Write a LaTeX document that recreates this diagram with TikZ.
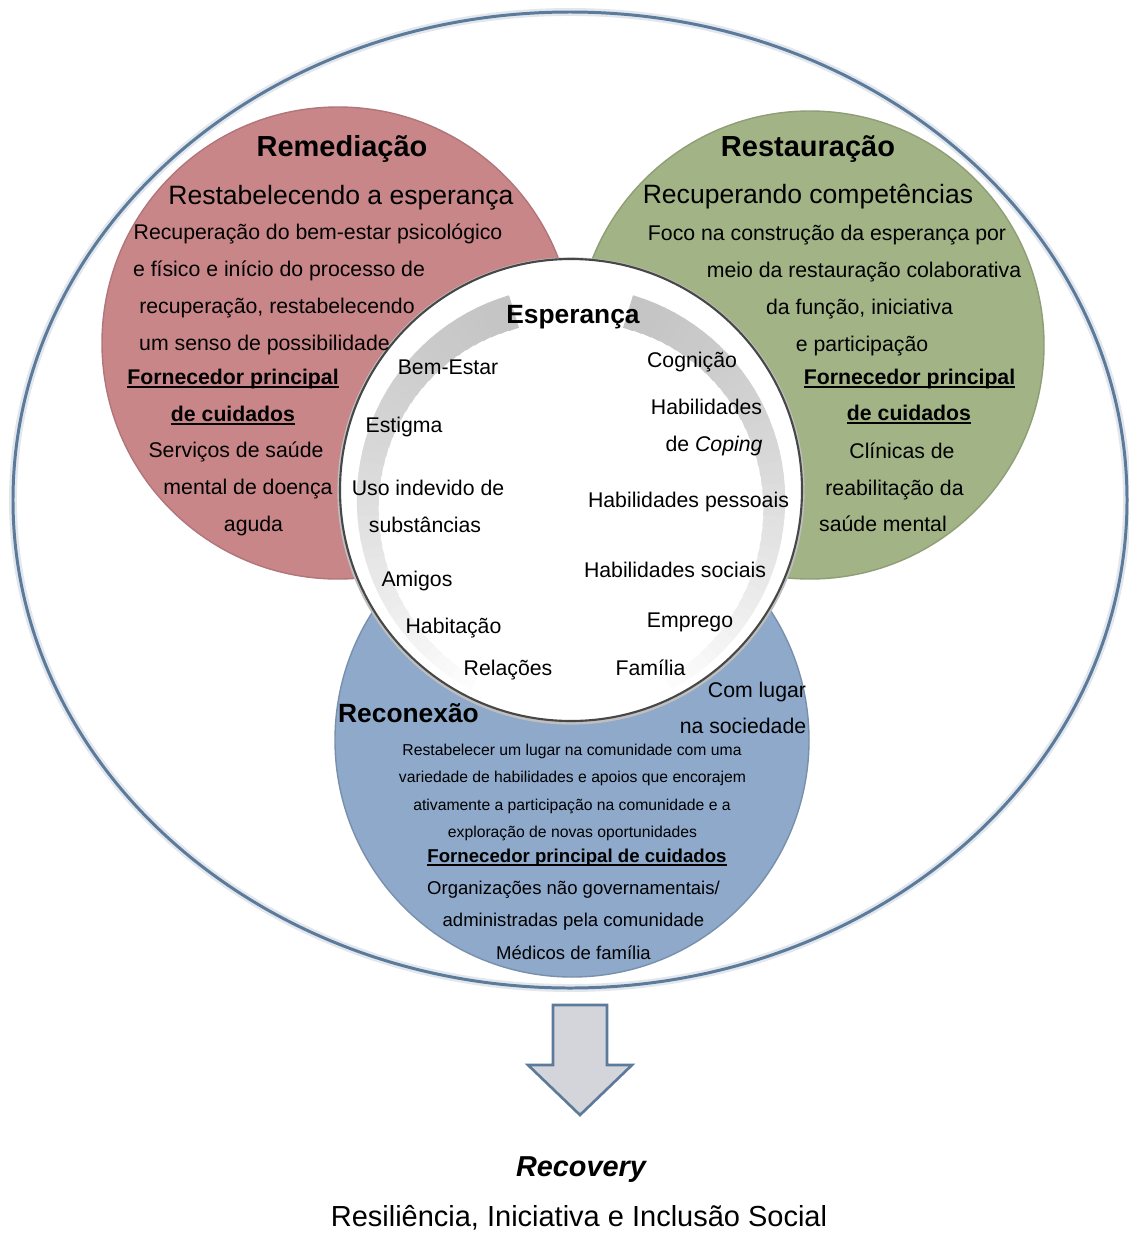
\documentclass[tikz,border=0pt]{standalone}
\usepackage{fontspec}
\setmainfont{Liberation Sans}
\usetikzlibrary{calc}

\definecolor{remcol}{RGB}{201,134,137}
\definecolor{rescol}{RGB}{162,179,134}
\definecolor{reccol}{RGB}{142,169,202}
\definecolor{rimline}{RGB}{92,122,154}
\definecolor{arrowfill}{RGB}{212,213,219}

% underlined heading text
\newcommand{\ulx}[1]{\leavevmode\setbox0=\hbox{#1}\rlap{\rule[-0.2em]{\wd0}{0.085em}}\box0}

\begin{document}
\begin{tikzpicture}[x=0.02cm,y=-0.02cm,
  body/.style={font=\fontsize{12.1}{14}\selectfont,anchor=base,inner sep=0pt},
  bodyb/.style={font=\bfseries\fontsize{12.1}{14}\selectfont,anchor=base,inner sep=0pt},
  ttl/.style={font=\bfseries\fontsize{16.5}{19}\selectfont,anchor=base,inner sep=0pt},
  subttl/.style={font=\fontsize{15.1}{18}\selectfont,anchor=base,inner sep=0pt},
  hope/.style={font=\bfseries\fontsize{15}{18}\selectfont,anchor=base,inner sep=0pt},
  smalltxt/.style={font=\fontsize{8.95}{11}\selectfont,anchor=base,inner sep=0pt},
  midtxt/.style={font=\fontsize{10.55}{12}\selectfont,anchor=base,inner sep=0pt},
  midb/.style={font=\bfseries\fontsize{10.6}{12}\selectfont,anchor=base,inner sep=0pt},
  bigtxt/.style={font=\fontsize{16.5}{19}\selectfont,anchor=base,inner sep=0pt}]

\useasboundingbox (0,0) rectangle (1129,1234);
\fill[white] (0,0) rectangle (1129,1234);

% outer frame
\draw[line width=4.5pt, rimline!18] (570,500) ellipse[x radius=557, y radius=488];
\draw[line width=1.7pt, rimline] (570,500) ellipse[x radius=557, y radius=488];

% three domains
\fill[remcol] (338,343) circle[radius=236];
\draw[remcol!88!black, line width=0.8pt] (338,343) circle[radius=236];
\fill[rescol] (810,345) circle[radius=234];
\draw[rescol!88!black, line width=0.8pt] (810,345) circle[radius=234];
\fill[reccol] (572,740) circle[radius=237];
\draw[reccol!85!black, line width=0.8pt] (572,740) circle[radius=237];

% central circle
\draw[black!25, line width=3pt] (571,491) circle[radius=231];
\fill[white] (571,490) circle[radius=231];
\draw[black!72, line width=1.2pt] (571,490) circle[radius=231];

% fading circular band around the centre
\coordinate (C) at (571,498);
\foreach \a in {107,110,...,239} {
  \pgfmathsetmacro\t{(\a-107)/132}
  \pgfmathsetmacro\ri{178+26*\t}
  \pgfmathsetmacro\ro{212+4*\t}
  \pgfmathsetmacro\k{1+22*(1-\t^1.3)}
  \fill[black!\k] ($(C)+(-\a:\ro)$) arc[start angle=-\a, end angle=-\a-3.4, radius=\ro]
     -- ($(C)+(-\a-3.4:\ri)$) arc[start angle=-\a-3.4, end angle=-\a, radius=\ri] -- cycle;
  \fill[black!\k] ($(C)+(\a-180:\ro)$) arc[start angle=\a-180, end angle=\a-180+3.4, radius=\ro]
     -- ($(C)+(\a-180+3.4:\ri)$) arc[start angle=\a-180+3.4, end angle=\a-180, radius=\ri] -- cycle;
}

% Remediação
\node[ttl]    (r0) at (342,156) {Remediação};
\node[subttl] (r1) at (341,204) {Restabelecendo a esperança};
\node[body]   (r2) at (318,239) {Recuperação do bem-estar psicológico};
\node[body]   (r3) at (279,276) {e físico e início do processo de};
\node[body]   (r4) at (277,313) {recuperação, restabelecendo};
\node[body]   (r5) at (264.5,350) {um senso de possibilidade};
\node[bodyb]  (r6) at (233,384) {\ulx{Fornecedor principal}};
\node[bodyb]  (r7) at (233,421) {\ulx{de cuidados}};
\node[body]   (r8) at (236,457) {Serviços de saúde};
\node[body]   (r9) at (248,494) {mental de doença};
\node[body]   (r10) at (253.5,531) {aguda};

% Restauração
\node[ttl]    (g0) at (808,156) {Restauração};
\node[subttl] (g1) at (808,203) {Recuperando competências};
\node[body]   (g2) at (827,240) {Foco na construção da esperança por};
\node[body]   (g3) at (864,277) {meio da restauração colaborativa};
\node[body]   (g4) at (859.5,314) {da função, iniciativa};
\node[body]   (g5) at (862,351) {e participação};
\node[bodyb]  (g6) at (909.5,384) {\ulx{Fornecedor principal}};
\node[bodyb]  (g7) at (909,420) {\ulx{de cuidados}};
\node[body]   (g8) at (902,458) {Clínicas de};
\node[body]   (g9) at (894.5,495) {reabilitação da};
\node[body]   (g10) at (883,531) {saúde mental};

% Esperança
\node[hope] (w0) at (573,323) {Esperança};
\node[body] (w1) at (448,374) {Bem-Estar};
\node[body] (w2) at (692,367) {Cognição};
\node[body] (w3) at (706.5,414) {Habilidades};
\node[body] (w4) at (714,451) {de \textit{Coping}};
\node[body] (w5) at (404,432) {Estigma};
\node[body] (w6) at (428,495) {Uso indevido de};
\node[body] (w7) at (425,532) {substâncias};
\node[body] (w8) at (688.5,507) {Habilidades pessoais};
\node[body] (w9) at (417,586) {Amigos};
\node[body] (w10) at (675,577) {Habilidades sociais};
\node[body] (w11) at (453.5,633) {Habitação};
\node[body] (w12) at (690,627) {Emprego};
\node[body] (w13) at (508,675) {Relações};
\node[body] (w14) at (650.5,675) {Família};
\node[body] (w15) at (757,697) {Com lugar};
\node[body] (w16) at (743,733) {na sociedade};

% Reconexão
\node[hope]     (b0) at (408.5,722) {Reconexão};
\node[smalltxt] (b1) at (572,755) {Restabelecer um lugar na comunidade com uma};
\node[smalltxt] (b2) at (572.5,782) {variedade de habilidades e apoios que encorajem};
\node[smalltxt] (b3) at (572,810) {ativamente a participação na comunidade e a};
\node[smalltxt] (b4) at (572.5,837) {exploração de novas oportunidades};
\node[midb]     (b5) at (577,862) {\ulx{Fornecedor principal de cuidados}};
\node[midtxt]   (b6) at (573.5,894) {Organizações não governamentais/};
\node[midtxt]   (b7) at (573.5,926) {administradas pela comunidade};
\node[midtxt]   (b8) at (573.5,959) {Médicos de família};

% outcome arrow
\draw[fill=arrowfill, draw=rimline, line width=1.5pt, line join=miter]
  (553,1005) -- (607,1005) -- (607,1065) -- (632,1065) -- (580,1115)
  -- (528,1065) -- (553,1065) -- cycle;

\node[font=\bfseries\itshape\fontsize{16.4}{19}\selectfont, anchor=base, inner sep=0pt]
  (rec) at (581,1176) {Recovery};
\node[bigtxt] (res) at (579,1226) {Resiliência, Iniciativa e Inclusão Social};

\end{tikzpicture}
\end{document}
